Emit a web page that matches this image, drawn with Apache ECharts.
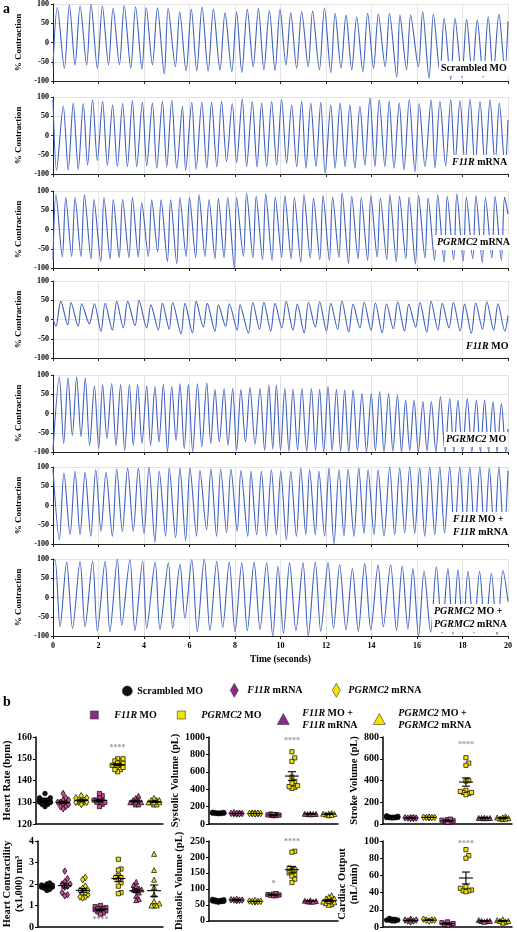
<!DOCTYPE html>
<html><head><meta charset="utf-8">
<script src="https://cdn.jsdelivr.net/npm/echarts@6/dist/echarts.min.js"></script>
<style>html,body{margin:0;padding:0;background:#fff}#c{width:517px;height:932px}</style>
</head><body><div id="c"></div>
<script>
// ---------- Panel a: contraction traces (extrema: [time s, % contraction]) ----------
const traceLabels = ['Scrambled MO','{i|F11R} mRNA','{i|PGRMC2} mRNA','{i|F11R} MO','{i|PGRMC2} MO','{i|F11R} MO +\n{i|F11R} mRNA','{i|PGRMC2} MO +\n{i|PGRMC2} mRNA'];
const yTicksA = [-100,-50,0,50,100];
const trScrambled = [[0,-60],[0.19,91],[0.50,-67],[0.72,98],[0.97,-58],[1.19,95],[1.48,-58],[1.67,100],[1.95,-67],[2.17,95],[2.44,-58],[2.64,89],[2.92,-58],[3.13,96],[3.42,-67],[3.63,93],[3.91,-69],[4.10,91],[4.37,-58],[4.59,90],[4.89,-82],[5.06,89],[5.38,-63],[5.57,80],[5.85,-74],[6.08,86],[6.32,-74],[6.55,93],[6.82,-74],[7.05,86],[7.34,-72],[7.56,77],[7.86,-76],[8.07,80],[8.30,-78],[8.54,86],[8.80,-63],[9.03,89],[9.27,-71],[9.51,83],[9.76,-73],[9.98,86],[10.24,-58],[10.45,77],[10.71,-67],[10.93,80],[11.22,-63],[11.41,82],[11.71,-71],[11.93,89],[12.21,-78],[12.40,76],[12.66,-67],[12.88,71],[13.13,-71],[13.35,67],[13.62,-76],[13.83,76],[14.09,-67],[14.30,74],[14.60,-63],[14.79,76],[15.11,-90],[15.25,71],[15.54,-71],[15.72,71],[16.06,-63],[16.25,80],[16.53,-93],[16.72,74],[17.01,-80],[17.19,63],[17.48,-96],[17.67,63],[17.97,-90],[18.18,60],[18.43,-85],[18.65,58],[18.91,-90],[19.13,67],[19.35,-85],[19.60,74],[19.86,-70],[20,55]];
const trF11Rmrna = [[0,93],[0.16,-90],[0.45,76],[0.67,-90],[0.89,84],[1.11,-88],[1.33,83],[1.52,-77],[1.74,93],[1.95,-65],[2.18,89],[2.39,-78],[2.62,80],[2.83,-81],[3.06,83],[3.27,-81],[3.49,91],[3.68,-81],[3.93,86],[4.12,-79],[4.37,84],[4.56,-85],[4.81,89],[5.00,-81],[5.22,91],[5.44,-85],[5.69,76],[5.83,-91],[6.10,86],[6.29,-88],[6.54,86],[6.76,-85],[6.97,86],[7.20,-81],[7.41,89],[7.63,-68],[7.88,83],[8.07,-70],[8.32,95],[8.51,-81],[8.76,88],[8.97,-82],[9.17,84],[9.39,-81],[9.61,89],[9.83,-77],[10.05,93],[10.27,-72],[10.49,80],[10.71,-81],[10.93,89],[11.12,-85],[11.33,84],[11.56,-81],[11.77,86],[11.96,-98],[12.21,80],[12.40,-85],[12.62,84],[12.84,-81],[13.05,80],[13.27,-85],[13.49,76],[13.71,-77],[13.93,97],[14.15,-81],[14.34,93],[14.59,-81],[14.78,89],[14.99,-85],[15.22,84],[15.43,-90],[15.66,93],[15.91,-94],[16.10,83],[16.35,-81],[16.62,93],[16.79,-85],[17.01,89],[17.26,-79],[17.48,93],[17.67,-72],[17.89,91],[18.11,-77],[18.33,95],[18.55,-85],[18.77,89],[18.99,-81],[19.21,93],[19.43,-77],[19.62,84],[19.87,-85],[20,40]];
const trPGRMC2mrna = [[0,-80],[0.13,90],[0.41,-71],[0.56,83],[0.82,-70],[0.97,83],[1.23,-70],[1.38,90],[1.67,-76],[1.80,78],[2.10,-83],[2.24,83],[2.51,-77],[2.65,78],[2.91,-73],[3.06,78],[3.34,-73],[3.49,83],[3.75,-71],[3.90,70],[4.19,-70],[4.34,77],[4.60,-58],[4.75,77],[5.03,-83],[5.17,77],[5.44,-89],[5.58,83],[5.85,-70],[6.00,83],[6.27,-73],[6.42,90],[6.68,-70],[6.86,78],[7.12,-76],[7.27,81],[7.52,-73],[7.68,83],[7.97,-100],[8.07,83],[8.37,-70],[8.51,94],[8.79,-74],[8.93,86],[9.21,-78],[9.35,92],[9.63,-80],[9.77,84],[10.05,-72],[10.19,88],[10.47,-76],[10.61,83],[10.89,-85],[11.03,90],[11.31,-74],[11.45,82],[11.73,-78],[11.87,88],[12.15,-80],[12.29,84],[12.57,-73],[12.71,95],[12.99,-88],[13.13,86],[13.41,-76],[13.55,83],[13.83,-80],[13.97,88],[14.25,-72],[14.39,82],[14.67,-78],[14.81,90],[15.09,-84],[15.23,86],[15.51,-76],[15.65,84],[15.93,-90],[16.07,88],[16.35,-74],[16.49,82],[16.77,-80],[16.91,90],[17.19,-85],[17.33,86],[17.61,-78],[17.75,92],[18.03,-82],[18.17,84],[18.45,-76],[18.59,88],[18.87,-86],[19.01,83],[19.29,-74],[19.43,86],[19.71,-80],[19.85,84],[20,40]];
const trF11Rmo = [[0,3],[0.13,-18],[0.34,47],[0.65,-14],[0.79,44],[1.11,-18],[1.26,41],[1.60,-11],[1.82,41],[2.11,-31],[2.29,42],[2.61,-27],[2.80,47],[3.09,-22],[3.28,47],[3.61,-16],[3.78,49],[4.12,-22],[4.30,38],[4.63,-27],[4.81,42],[5.11,-25],[5.26,44],[5.63,-37],[5.80,42],[6.13,-35],[6.29,47],[6.61,-20],[6.78,42],[7.12,-31],[7.27,38],[7.59,-18],[7.75,41],[8.10,-28],[8.22,38],[8.59,-35],[8.78,44],[9.08,-25],[9.27,45],[9.57,-30],[9.76,42],[10.06,-22],[10.25,47],[10.55,-28],[10.74,40],[11.04,-35],[11.23,44],[11.53,-20],[11.72,46],[12.02,-30],[12.21,42],[12.51,-25],[12.70,48],[13.00,-32],[13.19,40],[13.49,-22],[13.68,45],[13.98,-28],[14.17,43],[14.47,-35],[14.66,41],[14.96,-24],[15.15,46],[15.45,-30],[15.64,40],[15.94,-20],[16.13,44],[16.43,-33],[16.62,47],[16.92,-27],[17.11,42],[17.41,-22],[17.60,45],[17.90,-30],[18.09,40],[18.39,-36],[18.58,43],[18.88,-25],[19.07,46],[19.37,-28],[19.56,41],[19.86,-30],[20,10]];
const trPGRMC2mo = [[0,-95],[0.28,95],[0.47,-78],[0.66,93],[0.85,-57],[1.04,95],[1.23,-60],[1.42,92],[1.61,-83],[1.82,72],[2.01,-91],[2.18,75],[2.37,-65],[2.58,78],[2.77,-83],[2.97,75],[3.15,-96],[3.36,75],[3.53,-83],[3.72,75],[3.91,-78],[4.12,72],[4.29,-83],[4.48,70],[4.66,-74],[4.85,75],[5.03,-100],[5.22,70],[5.41,-70],[5.58,77],[5.77,-91],[5.95,75],[6.14,-100],[6.35,77],[6.54,-87],[6.76,80],[6.93,-78],[7.12,62],[7.31,-74],[7.52,65],[7.69,-83],[7.90,65],[8.07,-96],[8.26,62],[8.46,-74],[8.66,68],[8.88,-80],[9.10,65],[9.30,-95],[9.49,74],[9.66,-92],[9.82,74],[10.0,-96],[10.19,65],[10.37,-98],[10.55,63],[10.75,-95],[10.94,65],[11.15,-98],[11.36,65],[11.54,-96],[11.72,63],[11.9,-100],[12.09,70],[12.27,-97],[12.46,63],[12.64,-98],[12.82,61],[13.0,-100],[13.19,61],[13.38,-96],[13.58,52],[13.78,-100],[13.99,52],[14.17,-97],[14.36,57],[14.55,-100],[14.75,52],[14.94,-98],[15.14,48],[15.32,-100],[15.50,35],[15.68,-97],[15.87,35],[16.06,-100],[16.26,31],[16.44,-98],[16.63,31],[16.83,-100],[17.03,44],[17.23,-100],[17.44,39],[17.62,-100],[17.80,35],[18.0,-100],[18.21,39],[18.41,-100],[18.61,35],[18.79,-100],[18.97,35],[19.15,-100],[19.34,31],[19.52,-100],[19.71,26],[19.9,-100],[20,-40]];
const trF11Rrescue = [[0,95],[0.28,-89],[0.48,84],[0.75,-76],[0.97,89],[1.19,-76],[1.41,86],[1.66,-80],[1.88,93],[2.11,-67],[2.33,86],[2.61,-80],[2.80,95],[3.05,-67],[3.28,97],[3.53,-67],[3.75,97],[4.00,-73],[4.22,100],[4.48,-95],[4.67,89],[4.95,-80],[5.11,97],[5.39,-84],[5.58,97],[5.83,-90],[6.02,97],[6.31,-80],[6.46,91],[6.75,-63],[6.94,95],[7.19,-80],[7.37,95],[7.63,-71],[7.82,95],[8.10,-67],[8.26,91],[8.56,-80],[8.70,89],[8.95,-76],[9.16,89],[9.38,-80],[9.60,93],[9.82,-76],[10.01,89],[10.26,-89],[10.45,89],[10.70,-80],[10.89,97],[11.11,-76],[11.28,93],[11.53,-76],[11.69,89],[11.94,-80],[12.13,97],[12.35,-100],[12.57,93],[12.79,-80],[12.97,95],[13.23,-80],[13.44,97],[13.67,-73],[13.85,93],[14.11,-76],[14.29,93],[14.55,-80],[14.80,100],[15.02,-76],[15.24,97],[15.46,-71],[15.68,100],[15.90,-73],[16.12,97],[16.34,-80],[16.56,100],[16.78,-76],[17.00,100],[17.21,-71],[17.44,100],[17.65,-80],[17.88,100],[18.10,-80],[18.32,100],[18.54,-80],[18.76,100],[18.98,-80],[19.18,97],[19.40,-80],[19.60,100],[19.82,-82],[20,90]];
const trPGRMC2rescue = [[0,95],[0.09,98],[0.31,-76],[0.60,92],[0.86,-80],[1.19,94],[1.41,-76],[1.74,94],[1.95,-86],[2.29,94],[2.50,-89],[2.83,100],[3.02,-72],[3.38,98],[3.60,-86],[3.94,94],[4.12,-80],[4.49,92],[4.70,-83],[5.07,90],[5.26,-80],[5.58,86],[5.80,-54],[6.10,98],[6.34,-89],[6.65,100],[6.90,-86],[7.20,94],[7.46,-78],[7.75,92],[8.00,-89],[8.30,90],[8.54,-86],[8.84,92],[9.10,-83],[9.39,90],[9.66,-100],[9.89,81],[10.13,-93],[10.40,90],[10.68,-86],[10.99,90],[11.22,-100],[11.53,92],[11.77,-88],[12.09,90],[12.33,-80],[12.60,85],[12.88,-84],[13.16,75],[13.42,-88],[13.70,88],[13.97,-84],[14.29,85],[14.52,-76],[14.84,85],[15.10,-86],[15.35,82],[15.60,-82],[15.82,75],[16.07,-100],[16.31,68],[16.60,-90],[16.85,80],[17.10,-92],[17.36,75],[17.58,-95],[17.80,72],[18.02,-90],[18.24,68],[18.50,-92],[18.75,68],[19.0,-90],[19.27,62],[19.52,-97],[19.78,70],[20,-10]];
const traces = [trScrambled,trF11Rmrna,trPGRMC2mrna,trF11Rmo,trPGRMC2mo,trF11Rrescue,trPGRMC2rescue];

// ---------- Panel b: per-embryo measurements ----------
const groups = ['Scrambled MO','F11R mRNA','PGRMC2 mRNA','F11R MO','PGRMC2 MO','F11R MO + F11R mRNA','PGRMC2 MO + PGRMC2 mRNA'];
const heartRate = [
  [130,131,130,129,132,131,130,128,130,134,131,130,129,131,130,132],
  [130,129,131,128,127,130,132,134,129,130,131,128],
  [130,131,130,132,131,130,129,130,133,131,132],
  [131,130,133,134,129,128,131,130,132,130,131],
  [147,148,149,150,146,145,144,147,148,146,149,145,150,147,148],
  [130,131,129,130,132,133,131,130,129,130],
  [130,131,129,130,132,131,130,129,130,131]];
const systolic = [
  [125,130,120,135,128,122,118,132,126,124],
  [120,125,115,118,130,122,116,124],
  [120,118,122,125,119,121,117,123],
  [100,110,95,115,105,98,108,102],
  [830,760,720,540,490,420,410,440,430,470],
  [115,118,112,116,114,117],
  [110,120,100,125,115,105,118]];
const stroke = [
  [60,65,55,70,62,58,63,57,75,60],
  [55,58,52,60,57,54,50],
  [60,62,58,63,61,59],
  [20,40,30,25,35,15,45],
  [610,560,540,400,395,310,290,280,300,270,290],
  [55,53,57,56,54,55],
  [50,60,45,70,55,48,62]];
const contractility = [
  [1.9,1.85,1.95,2.0,1.8,1.7,1.9,1.85,1.95,2.05,1.75,1.9],
  [2.6,2.25,2.1,2.0,1.9,1.85,1.5,1.6,1.45,2.0],
  [2.3,2.2,1.9,1.8,1.7,1.6,1.5,1.4,1.35,1.4,1.6,1.7],
  [1.0,0.95,0.9,0.85,0.8,0.75,0.7,0.65,0.6,0.8,0.85],
  [3.15,2.7,2.65,2.4,2.3,2.3,2.2,2.05,1.9,1.6,1.55],
  [2.1,1.95,1.9,1.8,1.75,1.75,1.7,1.6,1.45,1.3,1.25],
  [3.4,2.65,2.2,1.85,1.5,1.2,1.1,1.0,1.0,1.0]];
const diastolic = [
  [62,65,60,64,66,58,63,61,67,60],
  [65,66,64,63,67,65],
  [61,60,62,59,63,60],
  [82,80,84,78,79,85,81],
  [218,215,165,160,158,150,145,140,130,120],
  [62,60,64,61,63,60],
  [80,75,70,65,60,55,52,50,58,62,70]];
const cardiacOutput = [
  [8,9,7,10,8,7,9,8],
  [7,8,7,9,6,8],
  [8,8,9,7,8],
  [6,3,2,5,4,3],
  [90,83,80,47,45,43,42,42,41],
  [7,7,8,7,6],
  [8,6,7,9,5,7]];
// significance marks: [group index, value position, text]
const hrStars = [[4,155,'****']];
const sysStars = [[4,960,'****']];
const strStars = [[4,725,'****']];
const conStars = [[3,0.35,'****']];
const diaStars = [[3,114,'*'],[4,246,'****']];
const coStars = [[4,97,'****']];

// ---------- build ----------
const SERIF = "'Liberation Serif','Times New Roman',serif";
const BLUE = '#3d5fc0';
const PINK = '#c94b9c', YEL = '#f2e400', PURPLE = '#8a2b8a';
const grids=[], xAxes=[], yAxes=[], series=[], graphics=[], legends=[];
const tops = [4,97,191,281,375,467,559];

traces.forEach((tr,i)=>{
  grids.push({left:53, width:455, top:tops[i], height:77});
  xAxes.push({gridIndex:i, type:'value', min:0, max:20, interval:2,
    axisLine:{onZero:false, lineStyle:{color:'#222',width:1.2}}, axisTick:{length:3,lineStyle:{color:'#222'}},
    axisLabel:{show:i===6, fontFamily:SERIF, fontWeight:'bold', fontSize:8, color:'#000', margin:6},
    splitLine:{show:true,lineStyle:{color:'#e3e3e3',width:1}},
    name:i===6?'Time (seconds)':'', nameLocation:'middle', nameGap:19,
    nameTextStyle:{fontFamily:SERIF, fontWeight:'bold', fontSize:9.5, color:'#000'}});
  yAxes.push({gridIndex:i, type:'value', min:yTicksA[0], max:yTicksA[4], interval:50,
    axisLine:{show:true, onZero:false, lineStyle:{color:'#222',width:1}}, axisTick:{show:true,length:2,lineStyle:{color:'#222'}},
    axisLabel:{fontFamily:SERIF, fontWeight:'bold', fontSize:8, color:'#000', margin:4},
    splitLine:{show:true,lineStyle:{color:'#e3e3e3',width:1}},
    name:'% Contraction', nameLocation:'middle', nameGap:25,
    nameTextStyle:{fontFamily:SERIF, fontWeight:'bold', fontSize:9, color:'#000'}});
  series.push({type:'line', xAxisIndex:i, yAxisIndex:i, data:tr, showSymbol:false, smooth:0.3,
    lineStyle:{color:BLUE,width:1.1}, silent:true, animation:false});
});

const richI = {i:{fontStyle:'italic', fontWeight:'bold', fontFamily:SERIF, fontSize:10, color:'#000'}};
const labelPos = [[439,61],[450,155],[435,235],[464,339],[444,432],[451,512],[432,604]];
traceLabels.forEach((t,i)=>{
  graphics.push({type:'text', left:labelPos[i][0], top:labelPos[i][1], z:100,
    style:{text:t, fontFamily:SERIF, fontWeight:'bold', fontSize:10, lineHeight:13, fill:'#000',
      backgroundColor:'#fff', padding:[1,2,1,2], rich:richI}});
});
graphics.push({type:'text', left:3, top:2, style:{text:'a', fontFamily:SERIF, fontWeight:'bold', fontSize:14, fill:'#000'}});
graphics.push({type:'text', left:3, top:695, style:{text:'b', fontFamily:SERIF, fontWeight:'bold', fontSize:14, fill:'#000'}});

// panel b subplots
const sym = ['circle','diamond','diamond','rect','rect','triangle','triangle'];
const symSize = [4.6,[4.2,6.5],[4.2,6.5],4.2,4.2,[5,5],[5,5]];
const col = ['#111',PINK,YEL,PINK,YEL,PINK,YEL];
const bDefs = [
  {name:'Heart Rate (bpm)', d:heartRate, min:120, max:160, step:10, left:32, top:737, w:131, gap:20, stars:hrStars},
  {name:'Systolic Volume (pL)', d:systolic, min:0, max:1000, step:200, left:209, top:737, w:129, gap:27, stars:sysStars},
  {name:'Stroke Volume (pL)', d:stroke, min:0, max:800, step:200, left:383, top:737, w:129, gap:21, stars:strStars},
  {name:'Heart Contractility\n(x1,000) nm³', d:contractility, min:0, max:4, step:1, left:32, top:841, w:131, gap:13, stars:conStars},
  {name:'Diastolic Volume (pL)', d:diastolic, min:0, max:250, step:50, left:209, top:841, w:129, gap:24, stars:diaStars},
  {name:'Cardiac Output\n(nL/min)', d:cardiacOutput, min:0, max:100, step:20, left:383, top:841, w:129, gap:19, stars:coStars}];
const H = 87;

function swarm(vals, vpp, cw){
  const order = vals.map((v,i)=>i).sort((a,b)=>vals[a]-vals[b]);
  const placed=[], off=new Array(vals.length);
  const step = 2.8/cw; const cand=[0,1,-1,2,-2].map(k=>k*step);
  order.forEach(i=>{
    const y = vals[i]/vpp;
    let chosen = null;
    for (const c of cand){
      if (placed.every(p=>Math.abs(p.c-c)*cw>=2.7 || Math.abs(p.y-y)>=3.6)) { chosen=c; break; }
    }
    if (chosen===null) chosen = cand[placed.length%cand.length];
    off[i]=chosen; placed.push({c:chosen,y});
  });
  return off;
}

bDefs.forEach((b,k)=>{
  const gi = 7+k, xc = 7+2*k, xv = 8+2*k, yi = 7+k;
  grids.push({left:b.left, top:b.top, width:b.w, height:H});
  xAxes.push({gridIndex:gi, type:'category', data:groups, boundaryGap:true,
    axisLine:{onZero:false, lineStyle:{color:'#000',width:1.5}}, axisTick:{alignWithLabel:true,length:3,lineStyle:{color:'#000',width:1}},
    axisLabel:{show:false}, splitLine:{show:false}});
  xAxes.push({gridIndex:gi, type:'value', min:-0.5, max:6.5, show:false});
  yAxes.push({gridIndex:gi, type:'value', min:b.min, max:b.max, interval:b.step,
    axisLine:{show:true, onZero:false, lineStyle:{color:'#000',width:1.5}}, axisTick:{show:true,length:3,lineStyle:{color:'#000'}},
    axisLabel:{fontFamily:SERIF, fontWeight:'bold', fontSize:10, color:'#000', margin:4, formatter:v=>String(v)},
    splitLine:{show:false},
    name:b.name, nameLocation:'middle', nameGap:b.gap,
    nameTextStyle:{fontFamily:SERIF, fontWeight:'bold', fontSize:10.5, color:'#000', lineHeight:12}});
  const cw = b.w/7, vpp = (b.max-b.min)/H;
  const stats = [];
  b.d.forEach((vals,g)=>{
    const off = swarm(vals, vpp, cw);
    series.push({name:groups[g], type:'scatter', xAxisIndex:xv, yAxisIndex:yi,
      data:vals.map((v,i)=>[g+off[i], v]), symbol:sym[g], symbolSize:symSize[g],
      itemStyle:{color:col[g], borderColor:'#000', borderWidth:0.7, opacity:1}, animation:false, z:3});
    const n=vals.length, m=vals.reduce((a,c)=>a+c,0)/n;
    const sd=Math.sqrt(vals.reduce((a,c)=>a+(c-m)*(c-m),0)/(n-1));
    stats.push([g, m, sd/Math.sqrt(n)]);
  });
  series.push({type:'custom', xAxisIndex:xv, yAxisIndex:yi, data:stats, z:5, silent:true, animation:false,
    renderItem:(p,api)=>{
      const x=api.value(0), m=api.value(1), s=api.value(2);
      const c=api.coord([x,m]), hi=api.coord([x,m+s]), lo=api.coord([x,m-s]);
      const st={stroke:'#000', lineWidth:1.1};
      return {type:'group', children:[
        {type:'line', shape:{x1:c[0]-7,y1:c[1],x2:c[0]+7,y2:c[1]}, style:st},
        {type:'line', shape:{x1:c[0],y1:hi[1],x2:c[0],y2:lo[1]}, style:st},
        {type:'line', shape:{x1:c[0]-4,y1:hi[1],x2:c[0]+4,y2:hi[1]}, style:st},
        {type:'line', shape:{x1:c[0]-4,y1:lo[1],x2:c[0]+4,y2:lo[1]}, style:st}]};
    }});
  series.push({type:'scatter', xAxisIndex:xv, yAxisIndex:yi, data:b.stars, symbolSize:1, silent:true, animation:false,
    itemStyle:{color:'rgba(0,0,0,0)'},
    label:{show:true, position:'inside', formatter:p=>p.value[2], color:'#808080', fontSize:8, fontWeight:'bold', fontFamily:SERIF}});
});

// legends (one per item so each sits where the figure has it)
const legItems = [
  {name:groups[0], icon:'circle', w:10, h:10, left:122, top:685, color:'#111'},
  {name:groups[1], icon:'diamond', w:8, h:14, left:230, top:683, color:PURPLE, pad:4},
  {name:groups[2], icon:'diamond', w:8, h:14, left:332, top:683, color:YEL, pad:3},
  {name:groups[3], icon:'rect', w:8, h:8, left:90, top:709, color:PURPLE, pad:11},
  {name:groups[4], icon:'rect', w:8, h:8, left:177, top:709, color:YEL, pad:11},
  {name:groups[5], icon:'triangle', w:12, h:11, left:277, top:707, color:PURPLE, pad:8},
  {name:groups[6], icon:'triangle', w:12, h:11, left:373, top:707, color:YEL, pad:8}];
const legFmt = n => n.replace(/F11R/g,'{i|F11R}').replace(/PGRMC2/g,'{i|PGRMC2}').replace(' + ',' +\n');
legItems.forEach(L=>{
  legends.push({left:L.left, top:L.top, padding:0, itemWidth:L.w, itemHeight:L.h, selectedMode:false,
    data:[{name:L.name, icon:L.icon, itemStyle:{color:L.color, borderColor:'#333', borderWidth:0.6}}],
    formatter:legFmt,
    textStyle:{fontFamily:SERIF, fontWeight:'bold', fontSize:10, color:'#000', lineHeight:12, padding:[0,0,0,L.pad||0], rich:richI}});
});

const chart = echarts.init(document.getElementById('c'), null, {renderer:'canvas'});
chart.setOption({animation:false, backgroundColor:'#fff', grid:grids, xAxis:xAxes, yAxis:yAxes, series, graphic:graphics, legend:legends});
</script></body></html>
